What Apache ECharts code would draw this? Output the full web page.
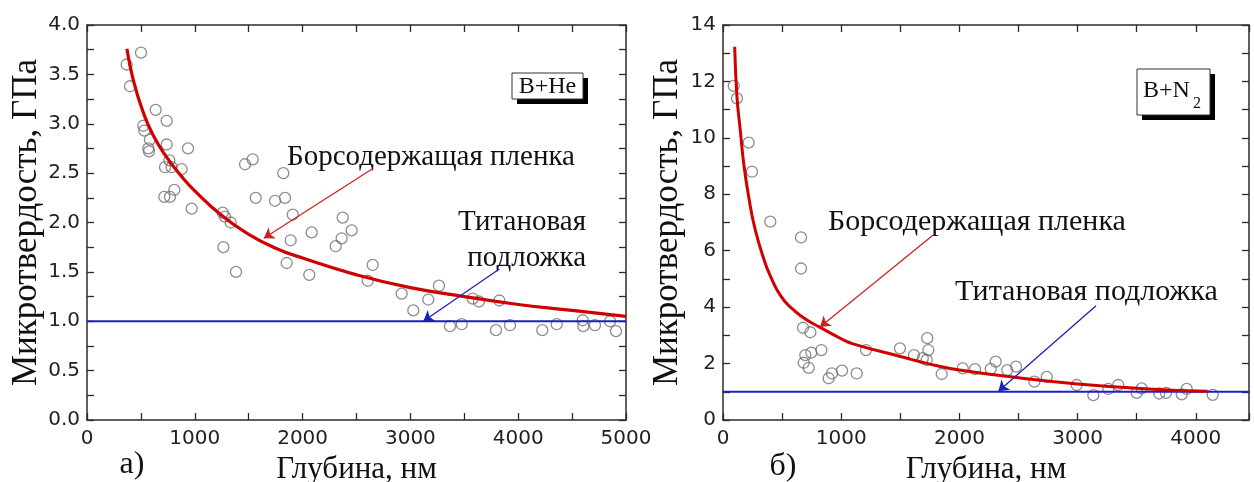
<!DOCTYPE html>
<html><head><meta charset="utf-8">
<script src="https://cdn.jsdelivr.net/npm/echarts@6/dist/echarts.min.js"></script>
<style>html,body{margin:0;padding:0;background:#fff}#c{width:1254px;height:482px}</style>
</head><body><div id="c"></div>
<script>
// ---- Panel a) B+He ----
const heDepth = [368,399,501,523,532,569,575,584,637,724,739,739,764,785,810,717,770,878,937,971,1259,1280,1333,1265,1382,1466,1537,1565,1744,1821,1837,1852,1889,1908,2062,2084,2307,2362,2372,2455,2604,2650,2919,3027,3166,3265,3367,3476,3578,3636,3794,3825,3924,4224,4357,4598,4604,4712,4852,4907];
const heHard  = [3.60,3.38,3.72,2.98,2.93,2.75,2.72,2.84,3.14,2.56,3.03,2.79,2.63,2.56,2.33,2.26,2.26,2.54,2.75,2.14,2.10,2.06,2.00,1.75,1.50,2.59,2.64,2.25,2.22,2.50,2.25,1.59,1.82,2.08,1.47,1.90,1.76,1.84,2.05,1.92,1.41,1.57,1.28,1.11,1.22,1.36,0.95,0.97,1.23,1.20,0.91,1.21,0.96,0.91,0.97,1.01,0.95,0.96,1.00,0.90];
const heFitDepth = [370,430,520,615,740,860,1000,1250,1500,1750,2000,2500,3000,3500,4000,4500,5000];
const heFitHard  = [3.76,3.44,3.12,2.88,2.66,2.49,2.32,2.07,1.88,1.74,1.64,1.47,1.34,1.25,1.17,1.11,1.05];
const heTiDepth = [0,5000];
const heTiHard  = [1,1];
const heFilmArrow = [[2656,2.55],[1640,1.84]];
const heTiArrow   = [[3825,1.53],[3120,1.00]];
const heXTickLabels = ['0','1000','2000','3000','4000','5000'];
const heYTickLabels = ['0.0','0.5','1.0','1.5','2.0','2.5','3.0','3.5','4.0'];

// ---- Panel б) B+N2 ----
const nDepth = [91,118,217,245,400,660,660,677,739,696,747,832,683,725,894,922,1007,1131,1210,1497,1616,1728,1737,1723,1690,1850,2028,2132,2265,2307,2405,2479,2634,2739,2992,3133,3260,3344,3500,3542,3691,3748,3881,3923,4143];
const nHard  = [11.84,11.40,9.83,8.80,7.03,6.47,5.37,3.27,3.11,2.30,2.39,2.48,2.03,1.85,1.48,1.65,1.75,1.65,2.48,2.54,2.30,2.90,2.48,2.13,2.19,1.63,1.83,1.80,1.81,2.07,1.77,1.89,1.36,1.53,1.24,0.88,1.10,1.24,0.96,1.12,0.94,0.96,0.91,1.10,0.89];
const nFitDepth = [99,118,146,175,217,273,358,410,457,520,598,700,810,1000,1100,1500,1750,2000,2500,3000,3600,4100];
const nFitHard  = [13.23,11.46,10.28,9.10,7.92,6.74,5.55,5.02,4.61,4.22,3.90,3.57,3.31,2.88,2.70,2.25,1.98,1.77,1.50,1.28,1.10,1.02];
const nTiDepth = [0,4450];
const nTiHard  = [1,1];
const nFilmArrow = [[1768,6.52],[821,3.30]];
const nTiArrow   = [[3156,4.05],[2330,1.02]];
const nXTickLabels = ['0','1000','2000','3000','4000'];
const nYTickLabels = ['0','2','4','6','8','10','12','14'];

const pairs = (xs, ys) => xs.map((x, i) => [x, ys[i]]);
const AX = '#2b2b2b';
const TICKFONT = {fontFamily: 'DejaVu Sans', fontSize: 20, color: '#222'};
const SERIF = 'Liberation Serif';

function valAxis(o) {
  return Object.assign({
    type: 'value', scale: false,
    axisLine: {show: true, onZero: false, lineStyle: {color: AX, width: 1.5}},
    axisTick: {show: true, inside: true, length: 7, lineStyle: {color: AX, width: 1.3}},
    minorTick: {show: false},
    splitLine: {show: false}
  }, o);
}
function labelled(labels, step, every, margin) {
  return Object.assign({show: true, margin: margin, showMaxLabel: true, showMinLabel: true,
    formatter: v => {
      const k = Math.round(v / step);
      if (Math.abs(k * step - v) > 1e-6 || k % every !== 0) return '';
      return labels[k / every] !== undefined ? labels[k / every] : '';
    }}, TICKFONT);
}

function arrowLine(pts, color) {
  return {
    silent: true, symbol: ['none', 'arrow'], symbolSize: 10,
    label: {show: false}, lineStyle: {color: color, width: 1.3, type: 'solid'},
    emphasis: {disabled: true},
    data: [[{coord: pts[0]}, {coord: pts[1]}]]
  };
}
const serifName = size => ({fontFamily: SERIF, fontSize: size, color: '#111'});

const chart = echarts.init(document.getElementById('c'), null, {renderer: 'canvas'});
chart.setOption({
  animation: false,
  backgroundColor: '#fff',
  grid: [
    {left: 87, top: 25, width: 539, height: 395, containLabel: false, outerBoundsMode: 'none'},
    {left: 723, top: 25, width: 526, height: 395, containLabel: false, outerBoundsMode: 'none'}
  ],
  xAxis: [
    valAxis({gridIndex: 0, position: 'bottom', min: 0, max: 5000, interval: 500,
      axisLabel: labelled(heXTickLabels, 500, 2, 9),
      name: 'Глубина, нм', nameLocation: 'middle', nameGap: 30, nameTextStyle: serifName(31)}),
    valAxis({gridIndex: 0, position: 'top', min: 0, max: 5000, interval: 500, axisLabel: {show: false}}),
    valAxis({gridIndex: 1, position: 'bottom', min: 0, max: 4450, interval: 500,
      axisLabel: labelled(nXTickLabels, 500, 2, 9),
      name: 'Глубина, нм', nameLocation: 'middle', nameGap: 33, nameTextStyle: serifName(31)}),
    valAxis({gridIndex: 1, position: 'top', min: 0, max: 4450, interval: 500, axisLabel: {show: false}})
  ],
  yAxis: [
    valAxis({gridIndex: 0, position: 'left', min: 0, max: 4, interval: 0.25,
      axisLabel: labelled(heYTickLabels, 0.25, 2, 7),
      name: 'Микротвердость, ГПа', nameLocation: 'middle', nameGap: 43, nameRotate: 90,
      nameTextStyle: serifName(35)}),
    valAxis({gridIndex: 0, position: 'right', min: 0, max: 4, interval: 0.25, axisLabel: {show: false}}),
    valAxis({gridIndex: 1, position: 'left', min: 0, max: 14, interval: 1,
      axisLabel: labelled(nYTickLabels, 1, 2, 7),
      name: 'Микротвердость, ГПа', nameLocation: 'middle', nameGap: 38, nameRotate: 90,
      nameTextStyle: serifName(35)}),
    valAxis({gridIndex: 1, position: 'right', min: 0, max: 14, interval: 1, axisLabel: {show: false}})
  ],
  series: [
    {type: 'scatter', xAxisIndex: 0, yAxisIndex: 0, data: pairs(heDepth, heHard),
      symbol: 'circle', symbolSize: 11, silent: true,
      itemStyle: {color: 'rgba(255,255,255,0)', borderColor: '#707070', borderWidth: 1.3}},
    {type: 'line', xAxisIndex: 0, yAxisIndex: 0, data: pairs(heTiDepth, heTiHard),
      showSymbol: false, silent: true, lineStyle: {color: '#1f1fbf', width: 2},
      markLine: arrowLine(heTiArrow, '#1f1fbf')},
    {type: 'line', xAxisIndex: 0, yAxisIndex: 0, data: pairs(heFitDepth, heFitHard),
      showSymbol: false, smooth: true, silent: true, lineStyle: {color: '#d10000', width: 3.2},
      markLine: arrowLine(heFilmArrow, '#cc2222')},

    {type: 'scatter', xAxisIndex: 2, yAxisIndex: 2, data: pairs(nDepth, nHard),
      symbol: 'circle', symbolSize: 11, silent: true,
      itemStyle: {color: 'rgba(255,255,255,0)', borderColor: '#707070', borderWidth: 1.3}},
    {type: 'line', xAxisIndex: 2, yAxisIndex: 2, data: pairs(nTiDepth, nTiHard),
      showSymbol: false, silent: true, lineStyle: {color: '#1f1fbf', width: 2},
      markLine: arrowLine(nTiArrow, '#1f1fbf')},
    {type: 'line', xAxisIndex: 2, yAxisIndex: 2, data: pairs(nFitDepth, nFitHard),
      showSymbol: false, smooth: true, silent: true, lineStyle: {color: '#d10000', width: 3},
      markLine: arrowLine(nFilmArrow, '#cc2222')}
  ],
  graphic: [
    // panel a annotations
    {type: 'text', x: 287, y: 157, style: {text: 'Борсодержащая пленка', font: '29px "Liberation Serif"', fill: '#111', align: 'left', verticalAlign: 'middle'}},
    {type: 'text', x: 586, y: 222, style: {text: 'Титановая', font: '29px "Liberation Serif"', fill: '#111', align: 'right', verticalAlign: 'middle'}},
    {type: 'text', x: 586, y: 258, style: {text: 'подложка', font: '29px "Liberation Serif"', fill: '#111', align: 'right', verticalAlign: 'middle'}},
    {type: 'rect', shape: {x: 517, y: 78, width: 71, height: 26}, style: {fill: '#000'}},
    {type: 'rect', shape: {x: 512, y: 73, width: 71, height: 26}, style: {fill: '#fff', stroke: '#333', lineWidth: 1}},
    {type: 'text', x: 547.5, y: 87, style: {text: 'B+He', font: '24px "Liberation Serif"', fill: '#111', align: 'center', verticalAlign: 'middle'}},
    {type: 'text', x: 132, y: 465, style: {text: 'а)', font: '32px "Liberation Serif"', fill: '#111', align: 'center', verticalAlign: 'middle'}},
    // panel b annotations
    {type: 'text', x: 828, y: 222, style: {text: 'Борсодержащая пленка', font: '30px "Liberation Serif"', fill: '#111', align: 'left', verticalAlign: 'middle'}},
    {type: 'text', x: 955, y: 292, style: {text: 'Титановая подложка', font: '30px "Liberation Serif"', fill: '#111', align: 'left', verticalAlign: 'middle'}},
    {type: 'rect', shape: {x: 1142, y: 74, width: 73, height: 46}, style: {fill: '#000'}},
    {type: 'rect', shape: {x: 1137, y: 69, width: 73, height: 46}, style: {fill: '#fff', stroke: '#333', lineWidth: 1}},
    {type: 'text', x: 1143, y: 91, style: {text: 'B+N', font: '24px "Liberation Serif"', fill: '#111', align: 'left', verticalAlign: 'middle'}},
    {type: 'text', x: 1193, y: 104, style: {text: '2', font: '16px "Liberation Serif"', fill: '#111', align: 'left', verticalAlign: 'middle'}},
    {type: 'text', x: 783, y: 467, style: {text: 'б)', font: '32px "Liberation Serif"', fill: '#111', align: 'center', verticalAlign: 'middle'}}
  ]
});
</script>
</body></html>
